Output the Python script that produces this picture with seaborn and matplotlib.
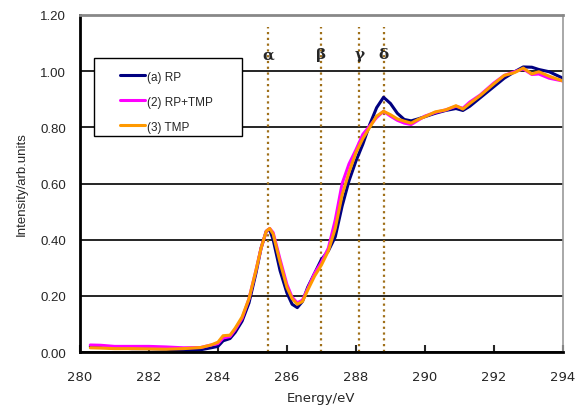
import numpy as np
import pandas as pd
import matplotlib
matplotlib.use("Agg")
import matplotlib.pyplot as plt
from matplotlib.patches import Rectangle
import seaborn as sns

energy = [280.3, 280.6, 281.0, 281.5, 282.0, 282.5, 283.0, 283.5, 283.8, 284.0,
          284.15, 284.35, 284.5, 284.7, 284.9, 285.1, 285.25, 285.4, 285.5, 285.6,
          285.8, 286.0, 286.15, 286.3, 286.45, 286.6, 286.8, 287.0, 287.2, 287.4,
          287.6, 287.8, 288.0, 288.2, 288.4, 288.6, 288.8, 289.0, 289.2, 289.4,
          289.6, 289.8, 290.0, 290.3, 290.6, 290.9, 291.1, 291.3, 291.6, 292.0,
          292.3, 292.6, 292.85, 293.1, 293.3, 293.6, 294.0]

rp = [0.020, 0.017, 0.015, 0.012, 0.012, 0.010, 0.005, 0.008, 0.015, 0.020,
      0.040, 0.048, 0.070, 0.110, 0.175, 0.280, 0.370, 0.430, 0.435, 0.400,
      0.290, 0.210, 0.170, 0.158, 0.180, 0.230, 0.280, 0.330, 0.360, 0.410,
      0.520, 0.610, 0.680, 0.740, 0.810, 0.870, 0.907, 0.885, 0.850, 0.828,
      0.823, 0.830, 0.838, 0.850, 0.860, 0.867, 0.860, 0.875, 0.905, 0.945,
      0.975, 0.998, 1.015, 1.014, 1.006, 0.998, 0.975]

rp_tmp = [0.025, 0.024, 0.020, 0.020, 0.020, 0.018, 0.015, 0.016, 0.025, 0.030,
          0.050, 0.055, 0.080, 0.120, 0.190, 0.290, 0.370, 0.430, 0.440, 0.425,
          0.330, 0.240, 0.195, 0.175, 0.185, 0.225, 0.280, 0.320, 0.370, 0.470,
          0.600, 0.670, 0.720, 0.775, 0.805, 0.835, 0.857, 0.840, 0.825, 0.815,
          0.810, 0.825, 0.840, 0.853, 0.862, 0.875, 0.868, 0.890, 0.915, 0.958,
          0.985, 0.998, 1.008, 0.988, 0.990, 0.975, 0.965]

tmp = [0.015, 0.014, 0.012, 0.012, 0.011, 0.010, 0.012, 0.016, 0.025, 0.035,
       0.058, 0.060, 0.085, 0.125, 0.190, 0.290, 0.370, 0.430, 0.440, 0.420,
       0.320, 0.230, 0.190, 0.170, 0.180, 0.220, 0.270, 0.310, 0.360, 0.440,
       0.560, 0.640, 0.710, 0.760, 0.800, 0.840, 0.857, 0.845, 0.830, 0.822,
       0.815, 0.828, 0.838, 0.855, 0.862, 0.877, 0.865, 0.885, 0.913, 0.955,
       0.985, 0.995, 1.011, 0.990, 0.998, 0.982, 0.965]

series_names = ["(a) RP", "(2) RP+TMP", "(3) TMP"]
series_colors = ["#000080", "#FF00FF", "#FF9900"]

peak_pos = [285.45, 287.0, 288.1, 288.8]
peak_labels = ["α", "β", "γ", "δ"]

df = pd.concat([
    pd.DataFrame({"Energy": energy, "Intensity": vals, "Sample": name})
    for name, vals in zip(series_names, [rp, rp_tmp, tmp])
])

sns.set_style("white")
plt.rcParams["font.family"] = ["Liberation Sans", "DejaVu Sans"]

fig = plt.figure(figsize=(5.77, 4.10), dpi=100)
ax = fig.add_axes([0.1386, 0.139, 0.837, 0.822])

sns.lineplot(data=df, x="Energy", y="Intensity", hue="Sample",
             hue_order=series_names, palette=series_colors,
             linewidth=2.2, sort=False, estimator=None, ax=ax)

# peak markers
for pos, lab in zip(peak_pos, peak_labels):
    ax.plot([pos, pos], [0, 1.157], linestyle=(0, (1, 1.6)), color="#A0701A",
            linewidth=1.6, zorder=1.5)
    ax.text(pos, 1.06, lab, ha="center", va="center", fontsize=11,
            fontweight="bold", family=["DejaVu Serif"])

ax.set_xlim(280, 294)
ax.set_ylim(0, 1.2)
ax.set_xticks(np.arange(280, 295, 2))
ax.set_yticks(np.arange(0, 1.21, 0.2))
ax.set_yticklabels([f"{v:.2f}" for v in np.arange(0, 1.21, 0.2)])
ax.tick_params(axis="x", direction="in", length=5, width=1.5, labelsize=9.5,
               pad=13, bottom=True)
ax.tick_params(axis="y", length=0, labelsize=9.5, pad=10)
for t in ax.get_xticklabels():
    t.set_family("DejaVu Sans")

ax.set_axisbelow(True)
ax.yaxis.grid(True, color="black", linewidth=1.2)
ax.xaxis.grid(False)

for side in ["left", "bottom"]:
    ax.spines[side].set_color("black")
    ax.spines[side].set_linewidth(2)
ax.spines["top"].set_color("#888888")
ax.spines["top"].set_linewidth(2)
ax.spines["right"].set_color("#999999")
ax.spines["right"].set_linewidth(1.2)

ax.set_xlabel("Energy/eV", fontsize=9.5, labelpad=6, family="DejaVu Sans")
ax.set_ylabel("Intensity/arb.units", fontsize=9.5, labelpad=9)

# legend box drawn separately so it can be wider than the entries
ax.add_patch(Rectangle((0.029, 0.641), 0.306, 0.231, transform=ax.transAxes,
                       facecolor="white", edgecolor="black", linewidth=1.0,
                       zorder=4))
handles, labels = ax.get_legend_handles_labels()
leg = ax.legend(handles, labels, loc="upper left", bbox_to_anchor=(0.083, 0.835),
                borderaxespad=0, frameon=False, fontsize=8.5, handlelength=2.1,
                handletextpad=0.2, labelspacing=1.1, borderpad=0)
leg.set_zorder(5)
for h in leg.get_lines():
    h.set_linewidth(2.2)

fig.savefig("out.png", dpi=100)
